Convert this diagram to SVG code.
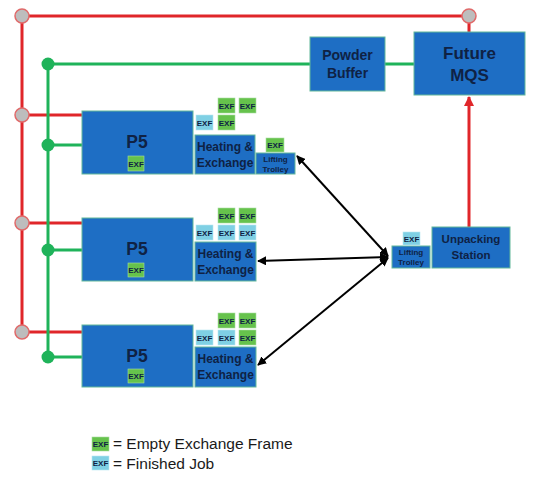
<svg xmlns="http://www.w3.org/2000/svg" width="549" height="483" viewBox="0 0 549 483">
<style>
.box{fill:#1e6ec4;stroke:#63b89a;stroke-width:1}
.t{font-family:"Liberation Sans",Arial,sans-serif;font-weight:bold;fill:#0f2244;text-anchor:middle}
.exg{fill:#66c24c;stroke:#a9dca0;stroke-width:0.6}
.exb{fill:#7fd0e4;stroke:#b8e6f0;stroke-width:0.6}
.ex{font-family:"Liberation Sans",Arial,sans-serif;font-weight:bold;font-size:8px;fill:#0f2244;text-anchor:middle}
.red{stroke:#e0262a;stroke-width:3;fill:none}
.grn{stroke:#1fb35a;stroke-width:3;fill:none}
.rc{fill:#bdbdbd;stroke:#e06a6a;stroke-width:1.5}
.gc{fill:#1fb35a}
.blk{stroke:#000;stroke-width:2;fill:none;marker-start:url(#ah);marker-end:url(#ah)}
.leg{font-family:"Liberation Sans",Arial,sans-serif;font-size:15.5px;fill:#1a1a1a}
</style>
<defs>
<marker id="ah" viewBox="0 0 10 10" refX="9" refY="5" markerWidth="4.5" markerHeight="4.5" orient="auto-start-reverse" markerUnits="strokeWidth">
<path d="M0,0 L10,5 L0,10 z" fill="#000"/>
</marker>
<marker id="rah" viewBox="0 0 10 10" refX="9" refY="5" markerWidth="3.5" markerHeight="3.5" orient="auto" markerUnits="strokeWidth">
<path d="M0,0 L10,5 L0,10 z" fill="#e0262a"/>
</marker>
</defs>
<rect width="549" height="483" fill="#fff"/>
<g id="connectors">
<path class="red" d="M22,16 H469 V32"/>
<path class="red" d="M22,16 V332"/>
<path class="red" d="M22,115 H83 M22,223 H83 M22,332 H83"/>
<path class="red" d="M469,227 V97" marker-end="url(#rah)"/>
<path class="grn" d="M48,64 V357"/>
<path class="grn" d="M48,64 H310 M385,64 H414"/>
<path class="grn" d="M48,145 H83 M48,250 H83 M48,357 H83"/>
<line class="blk" x1="388" y1="256" x2="297" y2="156"/>
<line class="blk" x1="388" y1="257" x2="258" y2="261"/>
<line class="blk" x1="388" y1="258" x2="258" y2="365"/>
<circle class="rc" cx="22" cy="16" r="7"/>
<circle class="rc" cx="469" cy="16" r="7"/>
<circle class="rc" cx="22" cy="115" r="7"/>
<circle class="rc" cx="22" cy="223" r="7"/>
<circle class="rc" cx="22" cy="332" r="7"/>
<circle class="gc" cx="48" cy="64" r="6.5"/>
<circle class="gc" cx="48" cy="145" r="6.5"/>
<circle class="gc" cx="48" cy="250" r="6.5"/>
<circle class="gc" cx="48" cy="357" r="6.5"/>
</g>
<g id="powder-buffer">
<rect class="box" x="310" y="37" width="75" height="54"/>
<text class="t" font-size="14" x="347.5" y="60">Powder</text>
<text class="t" font-size="14" x="347.5" y="78">Buffer</text>
</g>
<g id="future-mqs">
<rect class="box" x="414" y="32" width="111" height="63"/>
<text class="t" font-size="17" x="469.5" y="59">Future</text>
<text class="t" font-size="17" x="469.5" y="81">MQS</text>
</g>
<g id="unpacking-station">
<rect class="box" x="432" y="227" width="78" height="41"/>
<text class="t" font-size="11.5" x="471" y="243">Unpacking</text>
<text class="t" font-size="11.5" x="471" y="259">Station</text>
</g>
<g id="lifting-trolley-2">
<rect class="box" x="392" y="246" width="38" height="22"/>
<text class="t" font-size="8" x="411" y="255">Lifting</text>
<text class="t" font-size="8" x="411" y="265">Trolley</text>
<rect class="exb" x="403" y="232" width="17" height="13"/>
<text class="ex" x="411.5" y="241.5">EXF</text>
</g>
<g id="p5-1">
<rect class="box" x="82" y="111" width="111" height="63"/>
<text class="t" font-size="17.5" x="137" y="148">P5</text>
<rect class="exg" x="128" y="156" width="16" height="15"/>
<text class="ex" x="136" y="166.5">EXF</text>
</g>
<g id="heating-1">
<rect class="box" x="195" y="135" width="60" height="39"/>
<text class="t" font-size="12" x="225" y="151">Heating &amp;</text>
<text class="t" font-size="12" x="225" y="167">Exchange</text>
<rect class="exg" x="218" y="98" width="17" height="15"/><text class="ex" x="226.5" y="108.5">EXF</text>
<rect class="exg" x="239" y="98" width="17" height="15"/><text class="ex" x="247.5" y="108.5">EXF</text>
<rect class="exb" x="196" y="115" width="17" height="15"/><text class="ex" x="204.5" y="125.5">EXF</text>
<rect class="exg" x="218" y="115" width="17" height="15"/><text class="ex" x="226.5" y="125.5">EXF</text>
</g>
<g id="lifting-trolley-1">
<rect class="box" x="256" y="153" width="39" height="21"/>
<text class="t" font-size="8" x="275.5" y="162">Lifting</text>
<text class="t" font-size="8" x="275.5" y="171.5">Trolley</text>
<rect class="exg" x="266" y="138" width="18" height="14"/><text class="ex" x="275" y="148">EXF</text>
</g>
<g id="p5-2">
<rect class="box" x="82" y="218" width="111" height="63"/>
<text class="t" font-size="17.5" x="137" y="255">P5</text>
<rect class="exg" x="128" y="263" width="16" height="14"/>
<text class="ex" x="136" y="273">EXF</text>
</g>
<g id="heating-2">
<rect class="box" x="195" y="242" width="61" height="39"/>
<text class="t" font-size="12" x="225.5" y="258">Heating &amp;</text>
<text class="t" font-size="12" x="225.5" y="274">Exchange</text>
<rect class="exg" x="218" y="208" width="17" height="15"/><text class="ex" x="226.5" y="218.5">EXF</text>
<rect class="exg" x="239" y="208" width="17" height="15"/><text class="ex" x="247.5" y="218.5">EXF</text>
<rect class="exb" x="196" y="225" width="17" height="15"/><text class="ex" x="204.5" y="235.5">EXF</text>
<rect class="exb" x="218" y="225" width="17" height="15"/><text class="ex" x="226.5" y="235.5">EXF</text>
<rect class="exb" x="239" y="225" width="17" height="15"/><text class="ex" x="247.5" y="235.5">EXF</text>
</g>
<g id="p5-3">
<rect class="box" x="82" y="325" width="111" height="62"/>
<text class="t" font-size="17.5" x="137" y="362">P5</text>
<rect class="exg" x="128" y="369" width="16" height="14"/>
<text class="ex" x="136" y="379">EXF</text>
</g>
<g id="heating-3">
<rect class="box" x="195" y="347" width="61" height="40"/>
<text class="t" font-size="12" x="225.5" y="363">Heating &amp;</text>
<text class="t" font-size="12" x="225.5" y="379">Exchange</text>
<rect class="exg" x="218" y="313" width="17" height="15"/><text class="ex" x="226.5" y="323.5">EXF</text>
<rect class="exg" x="239" y="313" width="17" height="15"/><text class="ex" x="247.5" y="323.5">EXF</text>
<rect class="exb" x="196" y="330" width="17" height="15"/><text class="ex" x="204.5" y="340.5">EXF</text>
<rect class="exb" x="218" y="330" width="17" height="15"/><text class="ex" x="226.5" y="340.5">EXF</text>
<rect class="exg" x="239" y="330" width="17" height="15"/><text class="ex" x="247.5" y="340.5">EXF</text>
</g>
<g id="legend">
<rect class="exg" x="92" y="437" width="17" height="14"/><text class="ex" x="100.5" y="447">EXF</text>
<text class="leg" x="113" y="449">= Empty Exchange Frame</text>
<rect class="exb" x="92" y="456" width="17" height="14"/><text class="ex" x="100.5" y="466">EXF</text>
<text class="leg" x="113" y="469">= Finished Job</text>
</g>
</svg>
